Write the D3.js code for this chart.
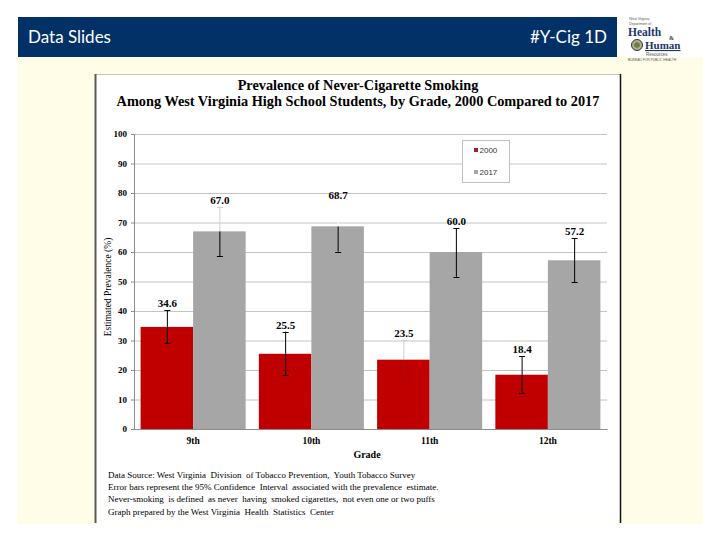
<!DOCTYPE html>
<html>
<head>
<meta charset="utf-8">
<script src="https://cdn.jsdelivr.net/npm/d3@7"></script>
<style>
  html, body { margin: 0; padding: 0; background: #ffffff; }
  svg { display: block; }
</style>
</head>
<body>
<script>
// ---------- data ----------
const grades = ["9th", "10th", "11th", "12th"];
const years = ["2000", "2017"];
const values2000 = [34.6, 25.5, 23.5, 18.4];
const values2017 = [67.0, 68.7, 60.0, 57.2];
const low2000 = [29.0, 18.3, 16.9, 12.1];
const high2000 = [40.2, 33.0, 30.3, 24.7];
const low2017 = [58.6, 60.1, 51.6, 49.7];
const high2017 = [75.4, 77.0, 68.0, 64.6];
const yTicks = [0, 10, 20, 30, 40, 50, 60, 70, 80, 90, 100];
const titleLines = [
  "Prevalence of Never-Cigarette Smoking",
  "Among West Virginia High School Students, by Grade, 2000 Compared to 2017"
];
const footnotes = [
  "Data Source: West Virginia  Division  of Tobacco Prevention,  Youth Tobacco Survey",
  "Error bars represent the 95% Confidence  Interval  associated with the prevalence  estimate.",
  "Never-smoking  is defined  as never  having  smoked cigarettes,  not even one or two puffs",
  "Graph prepared by the West Virginia  Health  Statistics  Center"
];

const series = years.map((y, si) => ({
  year: y,
  points: grades.map((g, i) => ({
    grade: g,
    value: si === 0 ? values2000[i] : values2017[i],
    low: si === 0 ? low2000[i] : low2017[i],
    high: si === 0 ? high2000[i] : high2017[i]
  }))
}));

// ---------- styles ----------
const colors = { "2000": "#c00000", "2017": "#a6a6a6" };
const legendColors = { "2000": "#a3202b", "2017": "#a6a6a6" };
// whiskers that appear faint in the reference
const faintUpper = { "2017": ["9th", "10th"], "2000": ["11th"] };
const serif = "'Liberation Serif', 'Times New Roman', serif";
const sans = "'Liberation Sans', Arial, sans-serif";

const W = 720, H = 540;
const svg = d3.select("body").append("svg").attr("width", W).attr("height", H);

// ---------- slide background ----------
svg.append("rect").attr("x", 17).attr("y", 57).attr("width", 686).attr("height", 467).attr("fill", "#fffde8");
svg.append("rect").attr("x", 18).attr("y", 17).attr("width", 599).attr("height", 40).attr("fill", "#023168");
svg.append("text").attr("x", 28).attr("y", 43).attr("fill", "#ffffff")
  .style("font-family", "Lato, 'Open Sans', sans-serif").style("font-size", "17px").text("Data Slides");
svg.append("text").attr("x", 607).attr("y", 43).attr("fill", "#ffffff").attr("text-anchor", "end")
  .style("font-family", "Lato, 'Open Sans', sans-serif").style("font-size", "17px").text("#Y-Cig 1D");

// logo
const logo = svg.append("g");
const navy = "#1d3470";
logo.append("text").attr("x", 629).attr("y", 20).attr("fill", "#555").style("font-family", sans).style("font-size", "3.5px").text("West Virginia");
logo.append("text").attr("x", 629).attr("y", 24.5).attr("fill", "#555").style("font-family", sans).style("font-size", "3.5px").text("Department of");
logo.append("text").attr("x", 628).attr("y", 36).attr("fill", navy).style("font-family", serif).style("font-weight", "bold").style("font-size", "11.5px").text("Health");
logo.append("text").attr("x", 669).attr("y", 39.5).attr("fill", navy).style("font-family", serif).style("font-weight", "bold").style("font-size", "6px").text("&");
logo.append("circle").attr("cx", 637).attr("cy", 45).attr("r", 5.5).attr("fill", "#b9ad7a").attr("stroke", navy).attr("stroke-width", 1);
logo.append("circle").attr("cx", 637).attr("cy", 45).attr("r", 2.8).attr("fill", "#6a7a4a");
logo.append("text").attr("x", 645).attr("y", 49).attr("fill", navy).style("font-family", serif).style("font-weight", "bold").style("font-size", "11px").style("text-decoration", "underline").text("Human");
logo.append("text").attr("x", 646).attr("y", 56).attr("fill", "#555").style("font-family", sans).style("font-size", "4.5px").text("Resources");
logo.append("text").attr("x", 628).attr("y", 60.5).attr("fill", "#555").style("font-family", sans).style("font-size", "3.3px").text("BUREAU FOR PUBLIC HEALTH");

// ---------- chart frame ----------
svg.append("rect").attr("x", 95).attr("y", 74).attr("width", 526).attr("height", 449).attr("fill", "#ffffff");
svg.append("line").attr("x1", 95).attr("x2", 621).attr("y1", 74.5).attr("y2", 74.5).attr("stroke", "#c9c6b2");
svg.append("line").attr("x1", 95.5).attr("x2", 95.5).attr("y1", 74).attr("y2", 523).attr("stroke", "#5a5a52").attr("stroke-width", 2);
svg.append("line").attr("x1", 620.5).attr("x2", 620.5).attr("y1", 74).attr("y2", 523).attr("stroke", "#111").attr("stroke-width", 1.5);

// ---------- title ----------
svg.append("g").selectAll("text").data(titleLines).join("text")
  .attr("x", 358).attr("y", (d, i) => 89.5 + i * 16)
  .attr("text-anchor", "middle")
  .style("font-family", serif).style("font-weight", "bold").style("font-size", "14.3px")
  .text(d => d);

// ---------- scales ----------
const plot = { left: 134, right: 607, top: 134, bottom: 429 };
const x0 = d3.scaleBand().domain(grades).range([plot.left, plot.right]).padding(0);
const x1 = d3.scaleBand().domain(years).range([6.6, x0.bandwidth() - 6.6]).padding(0);
const y = d3.scaleLinear().domain([0, 100]).range([plot.bottom, plot.top]);

// gridlines
svg.append("g").selectAll("line").data(yTicks.filter(t => t > 0)).join("line")
  .attr("x1", plot.left).attr("x2", plot.right)
  .attr("y1", d => y(d) + 0.5).attr("y2", d => y(d) + 0.5)
  .attr("stroke", "#c4c4c4").attr("stroke-width", 1);

// y axis
const yAxis = svg.append("g").attr("transform", `translate(${plot.left},0)`)
  .call(d3.axisLeft(y).tickValues(yTicks).tickSize(3).tickPadding(4).tickFormat(d3.format("d")));
yAxis.select(".domain").attr("stroke", "#8c8c8c");
yAxis.selectAll(".tick line").attr("stroke", "#8c8c8c");
yAxis.selectAll(".tick text").style("font-family", serif).style("font-weight", "bold").style("font-size", "9px").attr("fill", "#000");

// x axis
const xAxis = svg.append("g").attr("transform", `translate(0,${plot.bottom})`)
  .call(d3.axisBottom(x0).tickSize(0).tickPadding(8));
xAxis.select(".domain").attr("stroke", "#8c8c8c");
xAxis.selectAll(".tick text").style("font-family", serif).style("font-weight", "bold").style("font-size", "9.5px").attr("fill", "#000");

// axis titles
svg.append("text").attr("transform", "translate(111,287) rotate(-90)").attr("text-anchor", "middle")
  .style("font-family", serif).style("font-size", "9.5px").text("Estimated Prevalence (%)");
svg.append("text").attr("x", 367).attr("y", 458).attr("text-anchor", "middle")
  .style("font-family", serif).style("font-weight", "bold").style("font-size", "10px").text("Grade");

// ---------- bars ----------
const groups = svg.append("g").selectAll("g").data(series).join("g");
groups.selectAll("rect").data(s => s.points.map(p => ({ ...p, year: s.year }))).join("rect")
  .attr("x", d => x0(d.grade) + x1(d.year))
  .attr("y", d => y(d.value))
  .attr("width", x1.bandwidth())
  .attr("height", d => y(0) - y(d.value))
  .attr("fill", d => colors[d.year]);

// error bars
const allPoints = series.flatMap(s => s.points.map(p => ({ ...p, year: s.year })));
const cx = d => x0(d.grade) + x1(d.year) + x1.bandwidth() / 2;
const isFaint = d => (faintUpper[d.year] || []).includes(d.grade);
const lowColor = d => isFaint(d) && d.year === "2000" ? "#a01010" : "#000";
const highColor = d => isFaint(d) ? (d.grade === "10th" ? "#ffffff" : "#d0d0d0") : "#000";
const eb = svg.append("g").selectAll("g").data(allPoints).join("g");
eb.append("line")
  .attr("x1", d => cx(d) + 0.5).attr("x2", d => cx(d) + 0.5)
  .attr("y1", d => y(d.low)).attr("y2", d => y(d.value))
  .attr("stroke", lowColor).attr("stroke-width", 1);
eb.append("line")
  .attr("x1", d => cx(d) + 0.5).attr("x2", d => cx(d) + 0.5)
  .attr("y1", d => y(d.value)).attr("y2", d => y(d.high))
  .attr("stroke", highColor).attr("stroke-width", 1);
eb.append("line")
  .attr("x1", d => cx(d) - 2.5).attr("x2", d => cx(d) + 3.5)
  .attr("y1", d => Math.round(y(d.low)) + 0.5).attr("y2", d => Math.round(y(d.low)) + 0.5)
  .attr("stroke", lowColor).attr("stroke-width", 1);
eb.append("line")
  .attr("x1", d => cx(d) - 2.5).attr("x2", d => cx(d) + 3.5)
  .attr("y1", d => Math.round(y(d.high)) + 0.5).attr("y2", d => Math.round(y(d.high)) + 0.5)
  .attr("stroke", highColor).attr("stroke-width", 1);

// value labels
svg.append("g").selectAll("text").data(allPoints).join("text")
  .attr("x", d => cx(d) + 0.5)
  .attr("y", d => y(d.high) - 3)
  .attr("text-anchor", "middle")
  .style("font-family", serif).style("font-weight", "bold").style("font-size", "11px")
  .text(d => d.value.toFixed(1));

// ---------- legend ----------
const lg = svg.append("g");
lg.append("rect").attr("x", 462.5).attr("y", 140.5).attr("width", 47).attr("height", 42)
  .attr("fill", "#ffffff").attr("stroke", "#c0c0c0");
const li = lg.selectAll("g").data(years).join("g")
  .attr("transform", (d, i) => `translate(474,${150 + i * 22})`);
li.append("rect").attr("x", 0).attr("y", -2).attr("width", 4).attr("height", 4).attr("fill", d => legendColors[d]);
li.append("text").attr("x", 5.5).attr("y", 3).style("font-family", sans)
  .style("font-size", "8px").attr("fill", "#333").text(d => d);

// ---------- footnotes ----------
svg.append("g").selectAll("text").data(footnotes).join("text")
  .attr("x", 108).attr("y", (d, i) => 478 + i * 12.2)
  .style("font-family", serif).style("font-size", "9px").style("white-space", "pre")
  .attr("xml:space", "preserve")
  .text(d => d);
</script>
</body>
</html>
